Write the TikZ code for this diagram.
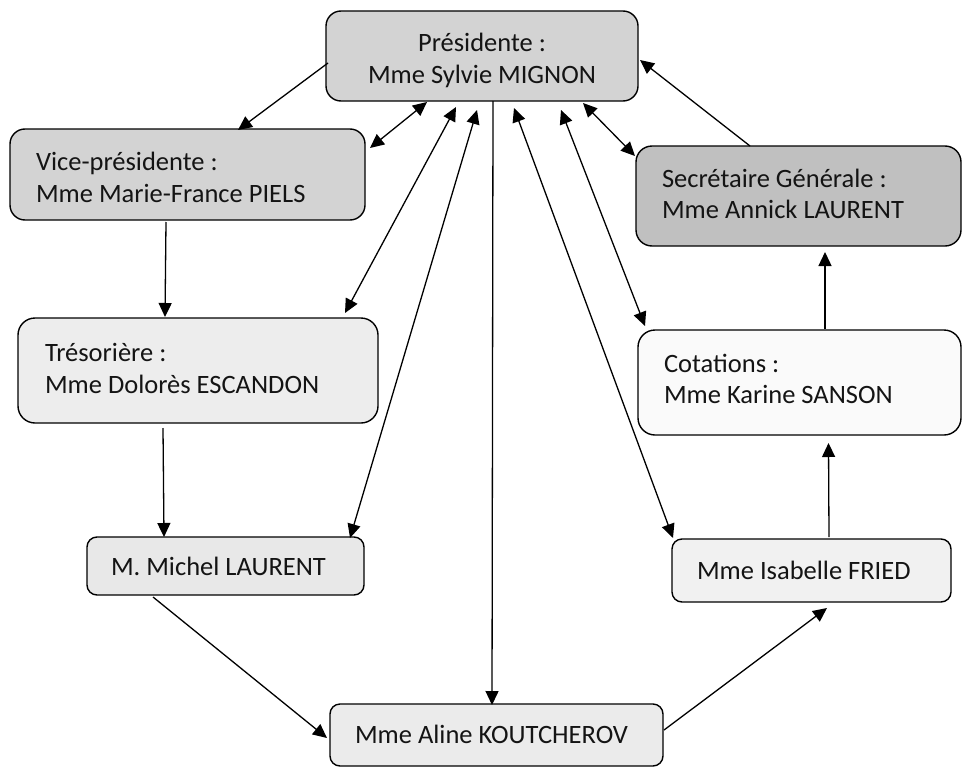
\documentclass[tikz,border=0pt]{standalone}
\usepackage{fontspec}
\setmainfont{Carlito}
\usetikzlibrary{arrows.meta,calc}
\definecolor{presfill}{RGB}{211,211,211}
\definecolor{vicefill}{RGB}{211,211,211}
\definecolor{secrfill}{RGB}{192,192,192}
\definecolor{tresfill}{RGB}{237,237,237}
\definecolor{cotfill}{RGB}{250,250,250}
\definecolor{michfill}{RGB}{232,232,232}
\definecolor{isabfill}{RGB}{241,241,241}
\definecolor{alinefill}{RGB}{235,235,235}
\begin{document}
\begin{tikzpicture}[x=1pt,y=-1pt,
  box/.style={draw=black, line width=1.4pt, rectangle, inner sep=0pt, outer sep=0pt},
  lbl/.style={inner sep=0pt, outer sep=0pt, text=black!92, font=\fontsize{26.5}{32}\selectfont},
  arr/.style={line width=1.3pt, -{Triangle[length=14pt,width=13pt]}},
  darr/.style={line width=1.3pt, {Triangle[length=14pt,width=13pt]}-{Triangle[length=14pt,width=13pt]}}]
\useasboundingbox (0,0) rectangle (963,768);

% boxes
\node[box, fill=presfill, rounded corners=15pt, minimum width=312pt, minimum height=90pt] (pres) at (482,56) {};
\node[box, fill=vicefill, rounded corners=15pt, minimum width=355pt, minimum height=91pt] (vice) at (187.5,174.5) {};
\node[box, fill=secrfill, rounded corners=16pt, minimum width=325pt, minimum height=100pt] (secr) at (798.5,196) {};
\node[box, fill=tresfill, rounded corners=17pt, minimum width=360pt, minimum height=105pt] (tres) at (198,370.5) {};
\node[box, fill=cotfill, rounded corners=17pt, minimum width=323pt, minimum height=105pt] (cot) at (799.5,382.5) {};
\node[box, fill=michfill, rounded corners=10pt, minimum width=277pt, minimum height=58pt] (mich) at (225.5,566) {};
\node[box, fill=isabfill, rounded corners=10pt, minimum width=279pt, minimum height=63pt] (isab) at (811.5,570.5) {};
\node[box, fill=alinefill, rounded corners=10pt, minimum width=333pt, minimum height=62pt] (aline) at (496.5,735) {};

% texts
\node[lbl, anchor=base] (tpresa) at (482,52) {Présidente :};
\node[lbl, anchor=base] (tpresb) at (482,83) {Mme Sylvie MIGNON};
\node[lbl, anchor=base west] (tvicea) at (36,170) {Vice-présidente :};
\node[lbl, anchor=base west] (tviceb) at (36,202) {Mme Marie-France PIELS};
\node[lbl, anchor=base west] (tsecra) at (662,187) {Secrétaire Générale :};
\node[lbl, anchor=base west] (tsecrb) at (662,218) {Mme Annick LAURENT};
\node[lbl, anchor=base west] (ttresa) at (45,361) {Trésorière :};
\node[lbl, anchor=base west] (ttresb) at (45,393) {Mme Dolorès ESCANDON};
\node[lbl, anchor=base west] (tcota) at (664,372) {Cotations :};
\node[lbl, anchor=base west] (tcotb) at (664,403) {Mme Karine SANSON};
\node[lbl, anchor=base west] (tmich) at (111,575) {M. Michel LAURENT};
\node[lbl, anchor=base west] (tisab) at (697,579) {Mme Isabelle FRIED};
\node[lbl, anchor=base west] (taline) at (355,743) {Mme Aline KOUTCHEROV};

% connectors
\draw[arr] ($(pres.west)+(2,7)$) -- ($(vice.north)+(50.5,1)$);
\draw[darr] ($(pres.south)+(-55,1)$) -- ($(vice.east)+(5,-26.5)$);
\draw[darr] ($(pres.south)+(-26,6)$) -- ($(tres.north)+(147,-5)$);
\draw[darr] ($(pres.south)+(-5,9)$) -- ($(mich.north)+(124.5,1)$);
\draw[arr] ($(pres.south)+(11,0)$) -- ($(aline.north)+(-4.5,1)$);
\draw[darr] ($(pres.south)+(32,7)$) -- ($(isab.north west)+(1,-1)$);
\draw[darr] ($(pres.south)+(79,9)$) -- ($(cot.north west)+(7,-4)$);
\draw[darr] ($(pres.south east)+(-55,2)$) -- ($(secr.west)+(-1,-40)$);
\draw[arr] ($(secr.north)+(-48.5,0)$) -- ($(pres.east)+(2,4)$);
\draw[arr] ($(vice.south)+(-21.5,2)$) -- ($(tres.north)+(-33,-1)$);
\draw[arr] ($(tres.south)+(-35,5)$) -- ($(mich.north)+(-61.5,0)$);
\draw[arr] ($(mich.south)+(-72.5,2)$) -- ($(aline.west)+(-3,3)$);
\draw[arr] ($(aline.east)+(1,-5)$) -- ($(isab.south)+(15.5,6)$);
\draw[arr] ($(isab.north)+(17.5,-2)$) -- ($(cot.south)+(29,8)$);
\draw[arr] ($(cot.north)+(25.5,-1)$) -- ($(secr.south)+(26.5,6)$);
\end{tikzpicture}
\end{document}
